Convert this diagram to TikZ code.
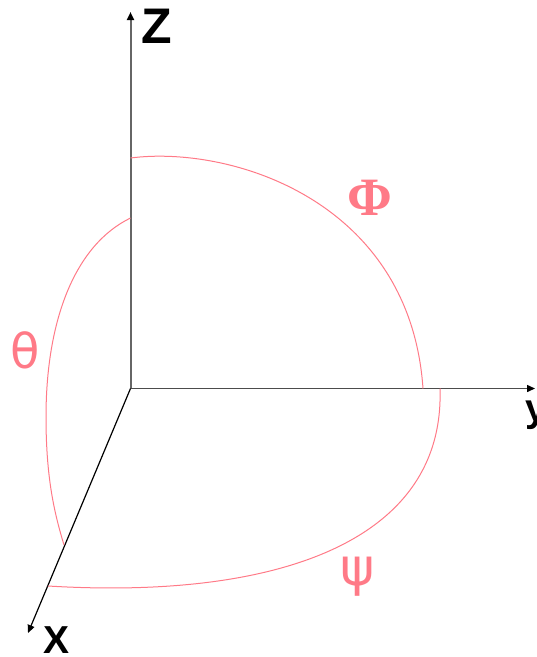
\documentclass[tikz,border=0pt]{standalone}
\usepackage{fontspec}
\setmainfont{Liberation Sans}
\newfontfamily\grk{DejaVu Sans}
\newfontfamily\grkserif{Liberation Serif}
\usetikzlibrary{arrows.meta}
\definecolor{arcpink}{RGB}{255,122,135}
\tikzset{
	axisline/.style={-{Triangle[length=8pt,width=7pt,black]}},
	arcline/.style={draw=arcpink,line width=1pt},
	axislbl/.style={inner sep=0pt,font=\bfseries\fontsize{39}{39}\selectfont},
	anglbl/.style={inner sep=0pt,text=arcpink}
}
\begin{document}
\begin{tikzpicture}[x=1pt,y=-1pt]
				\useasboundingbox (0,0) rectangle (537,657);
				\coordinate (O) at (130.5,388.5);
				\coordinate (zend) at (130.5,12);
				\coordinate (yend) at (535,388.5);
				\coordinate (xend) at (28,633);
				\draw[axisline,draw=black!60,line width=2pt] (O) -- (zend);
				\draw[axisline,draw=black!70,line width=1.5pt] (O) -- (yend);
				\draw[axisline,line width=1.2pt] (O) -- (xend);
				\node[axislbl,font=\bfseries\fontsize{50}{50}\selectfont,anchor=base] (zlbl) at (157,43) {Z};
				\node[axislbl,anchor=base west] (ylbl) at (525,421) {y};
				\node[axislbl,anchor=base] (xlbl) at (57,653) {X};
				% arcs
				\coordinate (phiA) at (130.5,158);
				\coordinate (phiB) at (423,388.5);
				\coordinate (thA) at (130.5,218);
				\coordinate (thM) at (46,417);
				\coordinate (thB) at (64,545);
				\coordinate (psiA) at (440,388.5);
				\coordinate (psiB) at (48,586);
				\draw[arcline] (phiA) .. controls (230,145) and (410,200) .. (phiB);
				\draw[arcline] (thA) .. controls (75,245) and (46,320) .. (thM)
					.. controls (46,480) and (55,515) .. (thB);
				\draw[arcline] (psiA) .. controls (445,540) and (280,600) .. (psiB);
				\node[anglbl,font=\grkserif\bfseries\fontsize{54}{54}\selectfont] (phi) at (370,198) {Φ};
				\node[anglbl,font=\grk\fontsize{48}{48}\selectfont] (theta) at (25,350) {θ};
				\node[anglbl,font=\grk\fontsize{52}{52}\selectfont] (psi) at (358,577) {ψ};
\end{tikzpicture}
\end{document}
